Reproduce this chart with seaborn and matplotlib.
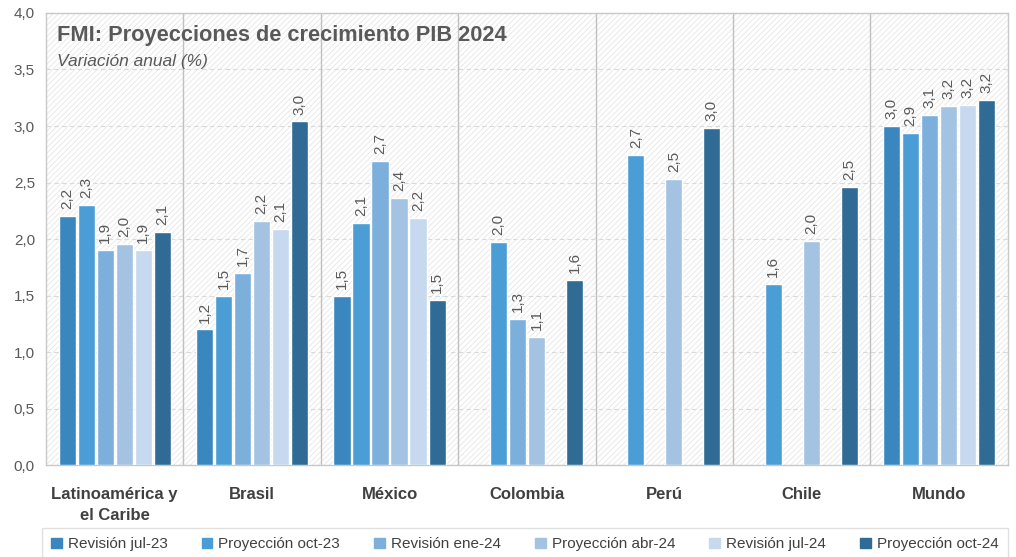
import numpy as np
import pandas as pd
import matplotlib
matplotlib.use("Agg")
import matplotlib.pyplot as plt
from matplotlib.patches import Rectangle
from matplotlib.ticker import FuncFormatter
import seaborn as sns

# data
regiones = ["Latinoamérica y\nel Caribe", "Brasil", "México", "Colombia", "Perú", "Chile", "Mundo"]
series = ["Revisión jul-23", "Proyección oct-23", "Revisión ene-24",
          "Proyección abr-24", "Revisión jul-24", "Proyección oct-24"]
rev_jul23 = [2.2, 1.2, 1.5, np.nan, np.nan, np.nan, 3.0]
proy_oct23 = [2.3, 1.5, 2.14, 1.97, 2.74, 1.6, 2.94]
rev_ene24 = [1.9, 1.7, 2.69, 1.29, np.nan, np.nan, 3.1]
proy_abr24 = [1.96, 2.16, 2.36, 1.13, 2.53, 1.98, 3.18]
rev_jul24 = [1.9, 2.09, 2.19, np.nan, np.nan, np.nan, 3.19]
proy_oct24 = [2.06, 3.04, 1.46, 1.64, 2.98, 2.46, 3.23]
colores = ["#3a87c0", "#4a9dd5", "#7cafdb", "#a4c3e3", "#c6d9ee", "#2f6b94"]

valores = [rev_jul23, proy_oct23, rev_ene24, proy_abr24, rev_jul24, proy_oct24]
rows = []
for s, vals in zip(series, valores):
    for r, v in zip(regiones, vals):
        rows.append({"region": r, "serie": s, "valor": v})
df = pd.DataFrame(rows)

sns.set_style("white")
plt.rcParams["font.family"] = ["Liberation Sans", "DejaVu Sans"]
plt.rcParams["hatch.linewidth"] = 0.6

fig = plt.figure(figsize=(10.16, 5.57), dpi=100)
ax = fig.add_axes([0.0453, 0.165, 0.9467, 0.8117])

# hatched background
ax.add_patch(Rectangle((0, 0), 1, 1, transform=ax.transAxes, facecolor="white",
                       edgecolor="#e6e6e6", hatch="//////", lw=0, zorder=0))

sns.barplot(data=df, x="region", y="valor", hue="serie", order=regiones,
            hue_order=series, palette=colores, width=0.83, gap=0.1,
            saturation=1, ax=ax, zorder=3)

for c in ax.containers:
    ax.bar_label(c, fmt=lambda v: f"{v:.1f}".replace(".", ","), rotation=90,
                 padding=5, fontsize=11, color="#595959")

ax.set_ylim(0, 4)
ax.set_xlim(-0.5, 6.5)
ax.set_yticks(np.arange(0, 4.01, 0.5))
ax.yaxis.set_major_formatter(FuncFormatter(lambda v, p: f"{v:.1f}".replace(".", ",")))
ax.tick_params(axis="y", labelsize=11, labelcolor="#595959", length=0, pad=8)
ax.tick_params(axis="x", length=0, pad=16)
for lab in ax.get_xticklabels():
    lab.set_fontweight("bold")
    lab.set_fontsize(12)
    lab.set_color("#404040")
    lab.set_linespacing(1.5)
ax.set_xlabel("")
ax.set_ylabel("")

for y in np.arange(0.5, 4.0, 0.5):
    ax.axhline(y, color="#d9d9d9", lw=0.8, ls=(0, (4, 3)), zorder=1)
for x in np.arange(0.5, 6.5, 1):
    ax.axvline(x, color="#c0c0c0", lw=1, zorder=1)
for sp in ax.spines.values():
    sp.set_color("#c8c8c8")
    sp.set_linewidth(1)

ax.text(0.0114, 0.951, "FMI: Proyecciones de crecimiento PIB 2024", transform=ax.transAxes,
        fontsize=15.7, fontweight="bold", color="#595959", va="center", ha="left", zorder=5)
ax.text(0.0114, 0.892, "Variación anual (%)", transform=ax.transAxes,
        fontsize=12.5, style="italic", color="#595959", va="center", ha="left", zorder=5)

ax.get_legend().remove()
handles = [Rectangle((0, 0), 1, 1, color=c) for c in colores]
leg = fig.legend(handles, series, loc="upper left", ncol=6, mode="expand",
                 bbox_to_anchor=(0.041, 0.052, 0.951, 0.0), frameon=True, fancybox=False,
                 handlelength=0.7, handleheight=0.7, handletextpad=0.4,
                 columnspacing=1.0, borderpad=0.6, borderaxespad=0,
                 prop={"size": 11})
leg.get_frame().set_edgecolor("#d9d9d9")
for t in leg.get_texts():
    t.set_color("#404040")

fig.savefig("out.png", dpi=100)
